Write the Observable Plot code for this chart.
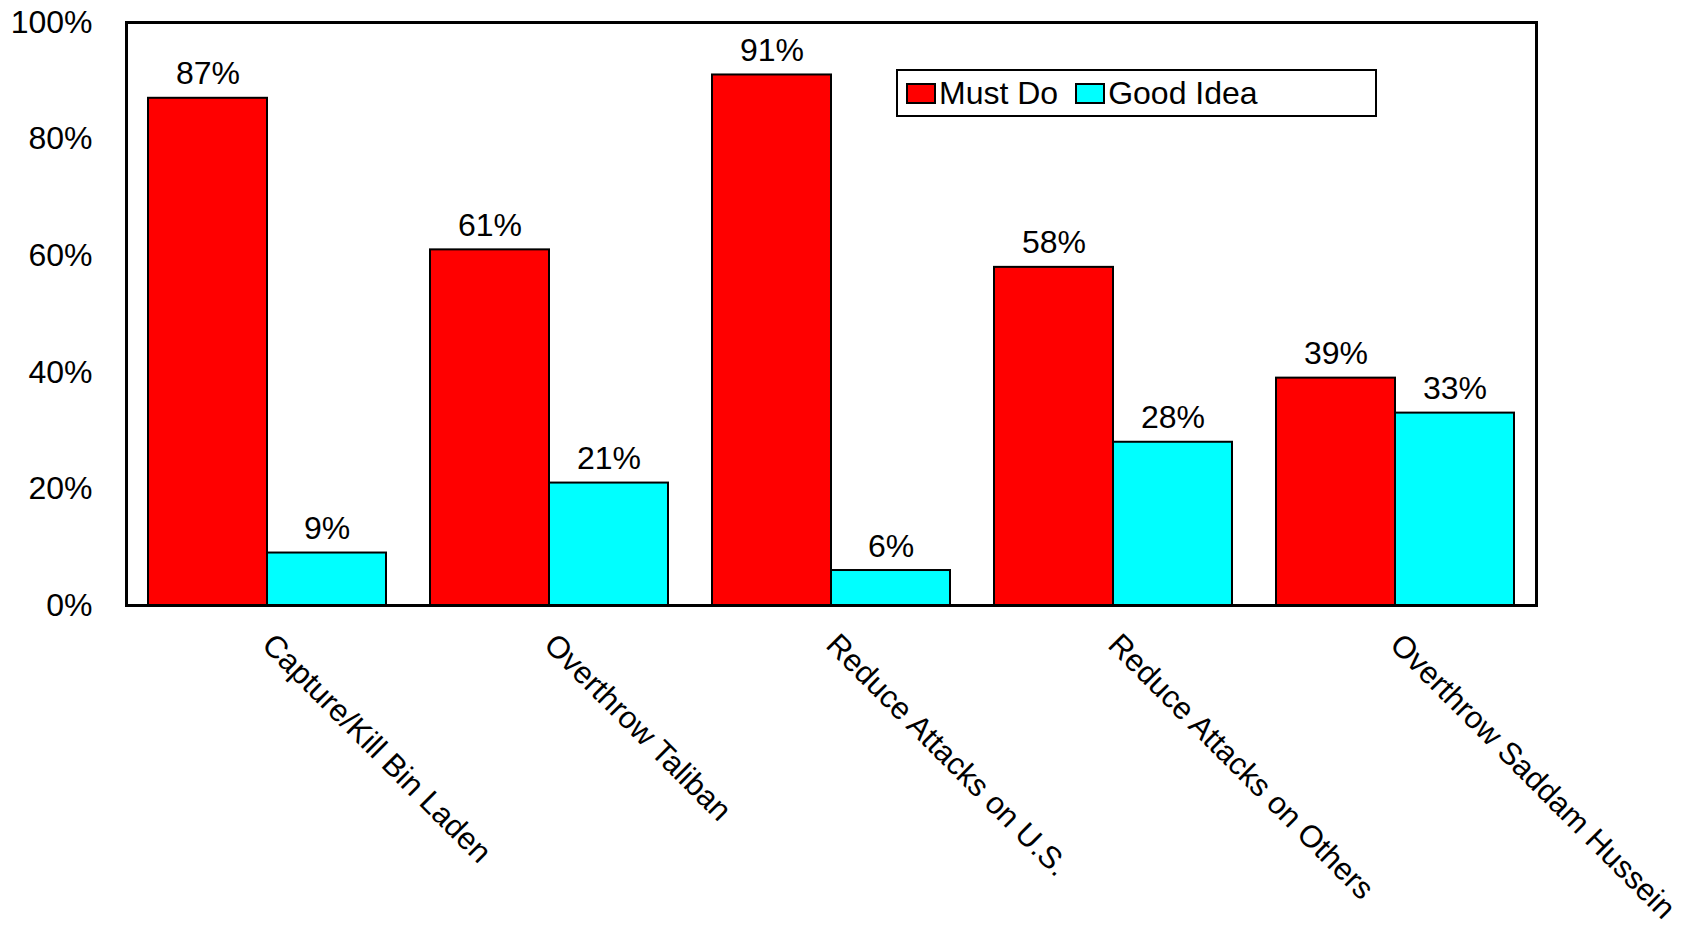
<!DOCTYPE html>
<html>
<head>
<meta charset="utf-8">
<script src="https://cdn.jsdelivr.net/npm/d3@7"></script>
<script src="https://cdn.jsdelivr.net/npm/@observablehq/plot@0.6"></script>
<style>
  html, body { margin: 0; padding: 0; background: #fff; }
  #wrap { position: relative; width: 1686px; height: 928px; font-family: "Liberation Sans", Arial, sans-serif; }
  #legend { position: absolute; left: 896px; top: 69px; width: 477px; height: 44px; border: 2px solid #000; background: #fff; display: flex; align-items: center; font-size: 32px; color: #000; box-sizing: content-box; }
  .item { display: flex; align-items: center; margin-left: 8px; margin-right: 9px; }
  .sw { width: 26px; height: 17px; border: 2px solid #000; margin-right: 3px; }
</style>
</head>
<body>
<div id="wrap"></div>
<script>
const categories = ["Capture/Kill Bin Laden", "Overthrow Taliban", "Reduce Attacks on U.S.", "Reduce Attacks on Others", "Overthrow Saddam Hussein"];
const series = ["Must Do", "Good Idea"];
const mustDo = [87, 61, 91, 58, 39];
const goodIdea = [9, 21, 6, 28, 33];
const colors = ["#ff0000", "#00ffff"];
const yTicks = [0, 20, 40, 60, 80, 100];

const rows = [];
categories.forEach((c, i) => {
  rows.push({category: c, series: series[0], value: mustDo[i]});
  rows.push({category: c, series: series[1], value: goodIdea[i]});
});

const chart = Plot.plot({
  width: 1686,
  height: 928,
  marginLeft: 124,
  marginRight: 149,
  marginTop: 22,
  marginBottom: 323,
  style: {fontFamily: "'Liberation Sans', Arial, sans-serif", fontSize: "32px", background: "#fff", color: "#000"},
  fx: {domain: categories, paddingInner: 0, paddingOuter: 0, label: null},
  x: {domain: series, paddingInner: 0, paddingOuter: 0.1775, axis: null},
  y: {domain: [0, 100], label: null},
  color: {domain: series, range: colors},
  marks: [
    Plot.barY(rows, {fx: "category", x: "series", y: "value", fill: "series", stroke: "#000", strokeWidth: 2}),
    Plot.text(rows, {fx: "category", x: "series", y: "value", text: d => d.value + "%", lineAnchor: "bottom", dy: -14, fontSize: 32, fill: "#000"}),
    Plot.axisY({ticks: yTicks, tickFormat: d => d + "%", tickSize: 0, tickPadding: 34, fontSize: 32}),
    Plot.axisFx({anchor: "bottom", tickSize: 0, tickRotate: 45, tickPadding: 34, fontSize: 31, label: null}),
    Plot.frame({facet: "super", stroke: "#000", strokeWidth: 3})
  ]
});
document.getElementById("wrap").appendChild(chart);

const legend = document.createElement("div");
legend.id = "legend";
series.forEach((s, i) => {
  const item = document.createElement("div");
  item.className = "item";
  const sw = document.createElement("div");
  sw.className = "sw";
  sw.style.background = colors[i];
  const t = document.createElement("span");
  t.textContent = s;
  item.appendChild(sw);
  item.appendChild(t);
  legend.appendChild(item);
});
document.getElementById("wrap").appendChild(legend);
</script>
</body>
</html>
